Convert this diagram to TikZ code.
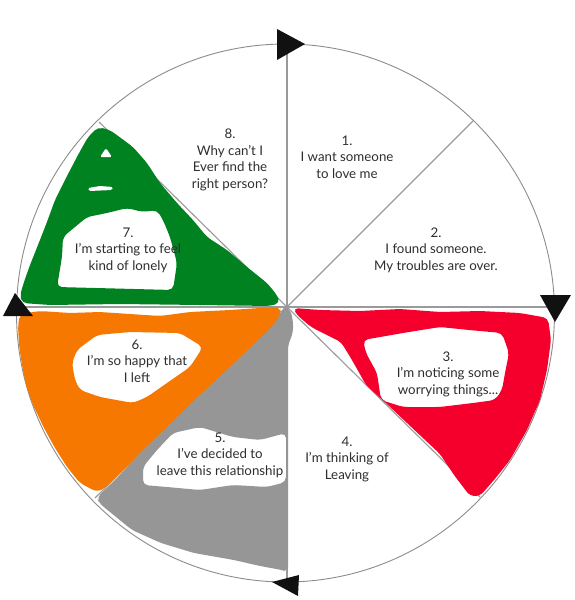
\documentclass[tikz,border=0pt]{standalone}
\usepackage{fontspec}
\setmainfont{Lato}
\definecolor{rimgray}{HTML}{8C8C8C}
\definecolor{linegray}{HTML}{9A9A9A}
\definecolor{txt}{HTML}{2E2E2E}
\definecolor{cgreen}{HTML}{008220}
\definecolor{corange}{HTML}{F77800}
\definecolor{cred}{HTML}{F5002D}
\definecolor{cgray}{HTML}{969696}
\definecolor{tri}{HTML}{111111}
\begin{document}
\begin{tikzpicture}[x=1pt,y=-1pt,
  spoke/.style={draw=linegray, line width=1.1pt},
  rim/.style={draw=rimgray, line width=0.9pt},
  blob/.style={even odd rule, rounded corners=5pt},
  speck/.style={fill=white, rounded corners=1.5pt},
  lbl/.style={align=center, font=\fontsize{13.3}{16.5}\selectfont, text=txt, inner sep=0pt},
  arrowtri/.style={fill=tri}]
\useasboundingbox (0,0) rectangle (574,600);
\fill[white] (0,0) rectangle (574,600);
% wheel
\coordinate (C) at (285.5,313);
\coordinate (O) at (287,307);
\draw[rim] (C) circle[radius=269];
\coordinate (PN) at (287,44);
\coordinate (PNE) at (473,121);
\coordinate (PE) at (554.4,307);
\coordinate (PSE) at (480,497);
\coordinate (PS) at (287,582);
\coordinate (PSW) at (95,498);
\coordinate (PW) at (16.6,307);
\coordinate (PNW) at (99,122);
\foreach \p in {PN,PNE,PE,PSE,PS,PSW,PW,PNW} \draw[spoke] (O) -- (\p);
% green scribble (7)
\fill[cgreen, blob]
  (98,127) -- (110,130) -- (133,147) -- (147,163) -- (160,183) -- (177,203) -- (193,220)
  -- (207,237) -- (227,250) -- (247,267) -- (267,283) -- (277,295) -- (280,303) -- (270,306)
  -- (200,305) -- (120,304) -- (50,305) -- (22,303) -- (20,295) -- (24,282) -- (30,265)
  -- (38,245) -- (47,222) -- (55,200) -- (66,178) -- (78,155) -- (88,137) -- cycle
  (87,217) -- (107,213) -- (127,208) -- (143,212) -- (157,210) -- (163,220) -- (170,237)
  -- (177,263) -- (173,290) -- (57,287) -- (62,257) -- (63,237) -- cycle;
\fill[speck] (100,157) -- (112,157) -- (106,148) -- cycle;
\fill[speck] (88,188) -- (100,186) -- (113,187) -- (112,190) -- (89,191) -- cycle;
% orange scribble (6)
\fill[corange, blob]
  (20,314) -- (40,311) -- (70,313) -- (100,312) -- (130,314) -- (160,316) -- (190,312)
  -- (230,310) -- (260,308) -- (280,307) -- (281,313) -- (277,322) -- (260,340) -- (240,360)
  -- (220,380) -- (200,400) -- (170,428) -- (140,455) -- (120,473) -- (105,488) -- (97,492)
  -- (80,483) -- (67,467) -- (55,448) -- (44,428) -- (33,405) -- (26,385) -- (22,365)
  -- (19,345) -- (18,325) -- cycle
  (77,350) -- (97,335) -- (130,332) -- (180,333) -- (203,347) -- (190,367) -- (167,383)
  -- (147,397) -- (133,403) -- (100,397) -- (80,390) -- (75,380) -- (72,363) -- cycle;
% gray scribble (5)
\fill[cgray, blob]
  (283,306) -- (290,309) -- (293,320) -- (293,333) -- (288,345) -- (288,400) -- (288,500)
  -- (288,572) -- (282,570) -- (260,566) -- (234,560) -- (194,553) -- (161,543) -- (132,530)
  -- (110,512) -- (99,503) -- (97,497) -- (115,480) -- (140,453) -- (170,424) -- (200,395)
  -- (230,367) -- (255,343) -- (272,327) -- (280,315) -- cycle
  (173,433) -- (200,427) -- (233,437) -- (260,440) -- (286,433) -- (286,482) -- (267,487)
  -- (233,485) -- (200,490) -- (167,487) -- (143,485) -- (143,467) -- (157,450) -- cycle;
% red scribble (3)
\fill[cred, blob]
  (293,308) -- (320,310) -- (360,311) -- (400,309) -- (440,312) -- (480,311) -- (520,313)
  -- (548,318) -- (551,340) -- (547,370) -- (540,400) -- (527,430) -- (510,460) -- (494,480)
  -- (480,496) -- (470,496) -- (454,475) -- (440,454) -- (407,423) -- (388,405) -- (366,385)
  -- (352,360) -- (341,342) -- (311,327) -- (297,315) -- cycle
  (363,340) -- (403,333) -- (440,327) -- (469,330) -- (502,333) -- (509,353) -- (505,373)
  -- (502,390) -- (495,400) -- (473,403) -- (440,407) -- (403,407) -- (381,400) -- (377,373)
  -- (366,353) -- cycle;
% labels
\node[lbl] (t1) at (347,157) {1.\\I want someone\\to love me};
\node[lbl] (t2) at (436,250) {2.\\I found someone.\\My troubles are over.};
\node[lbl] (t3) at (448,374) {3.\\I’m noticing some\\worrying things...};
\node[lbl] (t4) at (347,459) {4.\\I’m thinking of\\Leaving};
\node[lbl] (t5) at (220,455) {5.\\I’ve decided to\\leave this relationship};
\node[lbl] (t6) at (137,361) {6.\\I’m so happy that\\I left};
\node[lbl] (t7) at (128,250) {7.\\I’m starting to feel\\kind of lonely};
\node[lbl] (t8) at (230,160) {8.\\Why can’t I\\Ever find the\\right person?};
% direction arrowheads
\fill[arrowtri] (277,29) -- (305,44) -- (277,60) -- cycle;
\fill[arrowtri] (540,295) -- (571,295) -- (555,322) -- cycle;
\fill[arrowtri] (299,575) -- (298,596) -- (272,582) -- cycle;
\fill[arrowtri] (3,316) -- (33,316) -- (15,293) -- cycle;
\end{tikzpicture}
\end{document}
